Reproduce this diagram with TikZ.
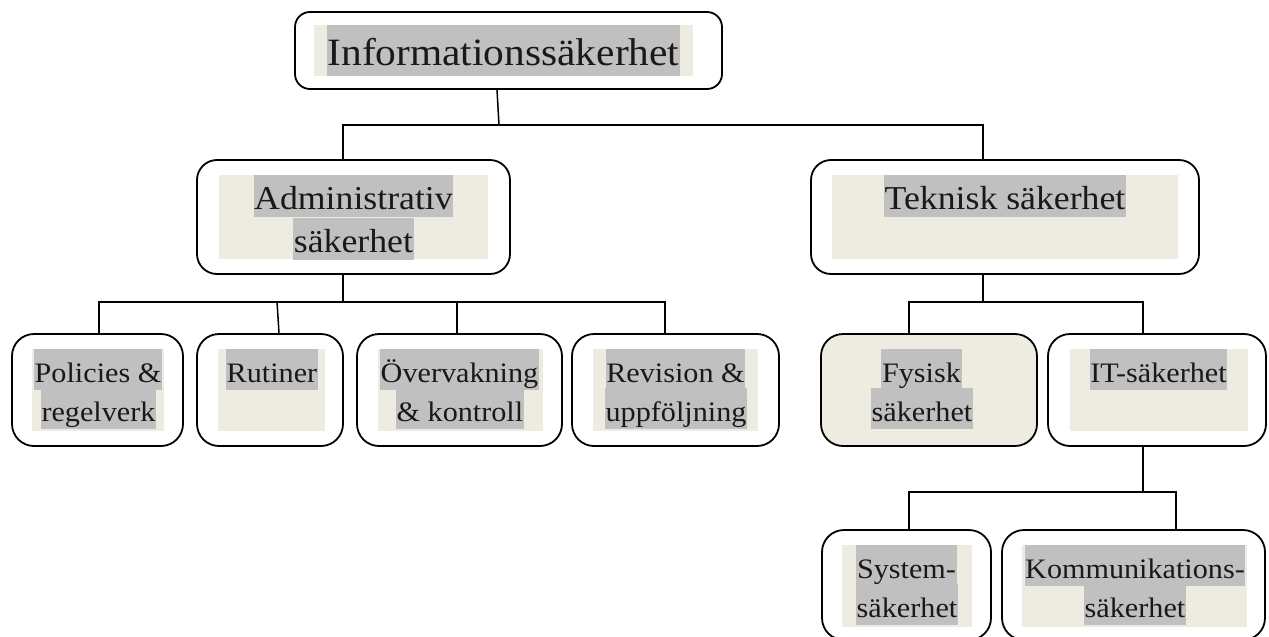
\documentclass[tikz,border=0pt]{standalone}
\usepackage{fontspec}
\setmainfont{Liberation Serif}[FakeStretch=1.07]
\definecolor{padbeige}{HTML}{EEECE1}
\definecolor{hlgray}{HTML}{C0C0C0}
\tikzset{
  box/.style={draw=black, line width=1.8pt, rounded corners=#1, inner sep=0pt, fill=white},
  box/.default=20pt,
  pad/.style={fill=padbeige, inner sep=0pt},
  hl/.style={fill=hlgray, inner xsep=0.6pt, inner ysep=0pt, anchor=base, text=black!90},
  hlA/.style={hl, font=\fontsize{38.7pt}{46pt}\selectfont, text height=40pt, text depth=11pt},
  hlB/.style={hl, font=\fontsize{33.4pt}{40pt}\selectfont, text height=34pt, text depth=8pt},
  hlC/.style={hl, font=\fontsize{28.2pt}{34pt}\selectfont, text height=33pt, text depth=8pt},
  conn/.style={line width=1.5pt, draw=black},
}
\begin{document}
\begin{tikzpicture}[x=1pt,y=-1pt]
\useasboundingbox (0,0) rectangle (1269,637);
\clip (0,0) rectangle (1269,637);
% ---- top
\node[box=15pt, minimum width=427pt, minimum height=77pt] (top) at (508.5,50.5) {};
\node[pad, minimum width=379pt, minimum height=51pt] (toppad) at (503.5,50.5) {};
\node[hlA] (t0) at (503.5,65) {Informationssäkerhet};
% ---- level 2
\node[box=20pt, minimum width=313pt, minimum height=114pt] (adm) at (353.5,217) {};
\node[pad, minimum width=269pt, minimum height=84pt] (admpad) at (353.5,217) {};
\node[hlB] (a1) at (353.5,209) {Administrativ};
\node[hlB] (a2) at (353.5,252) {säkerhet};
\node[box=20pt, minimum width=388pt, minimum height=114pt] (tek) at (1005,217) {};
\node[pad, minimum width=346pt, minimum height=84pt] (tekpad) at (1005,217) {};
\node[hlB] (k1) at (1005,209) {Teknisk säkerhet};
% ---- level 3
\node[box=22pt, minimum width=171pt, minimum height=112pt] (pol) at (97.5,390) {};
\node[pad, minimum width=132pt, minimum height=82pt] (polpad) at (98,390) {};
\node[hlC] (p1) at (98,382) {Policies \&};
\node[hlC] (p2) at (98.5,421) {regelverk};
\node[box=22pt, minimum width=146pt, minimum height=112pt] (rut) at (270,390) {};
\node[pad, minimum width=107pt, minimum height=82pt] (rutpad) at (271.5,390) {};
\node[hlC] (r1) at (272,382) {Rutiner};
\node[box=22pt, minimum width=205pt, minimum height=112pt] (ove) at (459.5,390) {};
\node[pad, minimum width=165pt, minimum height=82pt] (ovepad) at (460.5,390) {};
\node[hlC] (o1) at (459.5,382) {Övervakning};
\node[hlC] (o2) at (460,421) {\& kontroll};
\node[box=22pt, minimum width=207pt, minimum height=112pt] (rev) at (675.5,390) {};
\node[pad, minimum width=165pt, minimum height=82pt] (revpad) at (675.5,390) {};
\node[hlC] (v1) at (675.5,382) {Revision \&};
\node[hlC] (v2) at (676,421) {uppföljning};
\node[box=22pt, fill=padbeige, minimum width=216pt, minimum height=112pt] (fys) at (929,390) {};
\node[hlC] (f1) at (921.5,382) {Fysisk};
\node[hlC] (f2) at (922,421) {säkerhet};
\node[box=22pt, minimum width=218pt, minimum height=112pt] (its) at (1157,390) {};
\node[pad, minimum width=178pt, minimum height=82pt] (itspad) at (1159,390) {};
\node[hlC] (i1) at (1158.5,382) {IT-säkerhet};
% ---- level 4
\node[box=22pt, minimum width=169pt, minimum height=110pt] (sys) at (906.5,585) {};
\node[pad, minimum width=130pt, minimum height=82pt] (syspad) at (907,586) {};
\node[hlC] (s1) at (906.5,578) {System-};
\node[hlC] (s2) at (907,617) {säkerhet};
\node[box=22pt, minimum width=263pt, minimum height=110pt] (kom) at (1133.5,585) {};
\node[pad, minimum width=225pt, minimum height=82pt] (kompad) at (1134.5,586) {};
\node[hlC] (m1) at (1135,578) {Kommunikations-};
\node[hlC] (m2) at (1135,617) {säkerhet};
% ---- connectors
\coordinate (j0) at (499,125);
\coordinate (j1) at (343,302);
\coordinate (j2) at (983,302);
\coordinate (j3) at (1143,492);
\draw[conn] ([xshift=-11.5pt]top.south) -- (j0);
\draw[conn] ([xshift=-10.5pt]adm.north) |- (j0) -| ([xshift=-22pt]tek.north);
\draw[conn] ([xshift=-10.5pt]adm.south) -- (j1);
\draw[conn] ([xshift=1.5pt]pol.north) |- (j1) -| ([xshift=-10.5pt]rev.north);
\draw[conn] ([xshift=-2.5pt]ove.north) -- ++(0,-32);
\draw[conn] ([xshift=9pt]rut.north) -- ++(-2,-32);
\draw[conn] ([xshift=-22pt]tek.south) -- (j2);
\draw[conn] ([xshift=-20pt]fys.north) |- (j2) -| ([xshift=-14pt]its.north);
\draw[conn] ([xshift=-14pt]its.south) -- (j3);
\draw[conn] ([xshift=2.5pt]sys.north) |- (j3) -| ([xshift=42.5pt]kom.north);
\end{tikzpicture}
\end{document}
